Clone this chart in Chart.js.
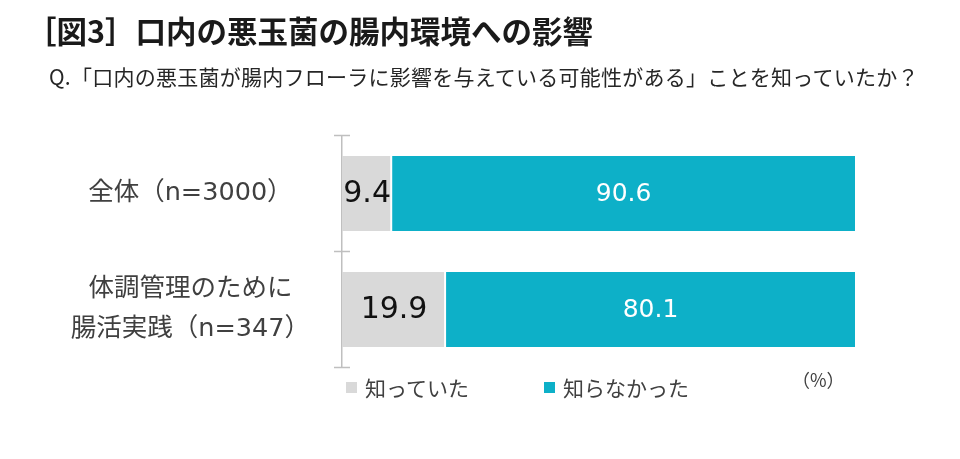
<!DOCTYPE html>
<html lang="ja">
<head>
<meta charset="utf-8">
<script src="https://cdn.jsdelivr.net/npm/chart.js@4.4.1/dist/chart.umd.min.js"></script>
<style>
  html, body { margin: 0; padding: 0; background: #fff; }
  body { width: 960px; height: 459px; position: relative; overflow: hidden;
         font-family: "Noto Sans CJK JP", "Noto Sans", sans-serif; color: #222; }
  #wrap { position: absolute; left: 0; top: 0; width: 960px; height: 459px; }
  .txt { position: absolute; white-space: nowrap; line-height: 1; }
  #title { left: 26px; top: 15px; font-size: 30.5px; font-weight: 700; color: #1a1a1a; }
  #sub { left: 49px; top: 66px; font-size: 21px; color: #262626; letter-spacing: 0.25px; }
  #unit { left: 792px; top: 370px; font-size: 18px; color: #404040; }
  .lg { position: absolute; top: 377px; font-size: 21px; color: #404040; line-height: 1; white-space: nowrap; }
  .lg i { display: inline-block; width: 11px; height: 11px; margin-right: 8px; vertical-align: 3px; }
</style>
</head>
<body>
<div id="wrap"><canvas id="chart" width="960" height="459"></canvas></div>
<div class="txt" id="title">［図3］口内の悪玉菌の腸内環境への影響</div>
<div class="txt" id="sub">Q.「口内の悪玉菌が腸内フローラに影響を与えている可能性がある」ことを知っていたか？</div>
<div class="txt" id="unit">（%）</div>
<div class="lg" style="left:346px"><i style="background:#d9d9d9"></i>知っていた</div>
<div class="lg" style="left:544px"><i style="background:#0db0c8"></i>知らなかった</div>
<script>
// データ
const categories = [["全体（n=3000）"], ["体調管理のために", "腸活実践（n=347）"]];
const seriesNames = ["知っていた", "知らなかった"];
const knew = [9.4, 19.9];
const didNotKnow = [90.6, 80.1];

// 棒の中に数値を描く
const barLabels = {
  id: "barLabels",
  afterDatasetsDraw(chart) {
    const ctx = chart.ctx;
    ctx.save();
    ctx.textAlign = "center";
    ctx.textBaseline = "middle";
    chart.data.datasets.forEach((ds, i) => {
      const meta = chart.getDatasetMeta(i);
      meta.data.forEach((bar, j) => {
        const x = (bar.base + bar.x) / 2;
        if (i === 0) {
          ctx.fillStyle = "#111";
          ctx.font = "30px 'DejaVu Sans', sans-serif";
        } else {
          ctx.fillStyle = "#fff";
          ctx.font = "25px 'DejaVu Sans', sans-serif";
        }
        ctx.fillText(ds.data[j].toFixed(1), x + 1, bar.y + 1);
      });
    });
    ctx.restore();
  }
};

// 軸の目盛り線（左右に少しはみ出す）
const axisTicks = {
  id: "axisTicks",
  afterDraw(chart) {
    const y = chart.scales.y;
    const ctx = chart.ctx;
    const n = chart.data.labels.length;
    ctx.save();
    ctx.strokeStyle = "#bfbfbf";
    ctx.lineWidth = 1.5;
    for (let i = 0; i <= n; i++) {
      const py = y.top + (y.bottom - y.top) * i / n;
      ctx.beginPath();
      ctx.moveTo(y.right - 8, py);
      ctx.lineTo(y.right + 8, py);
      ctx.stroke();
    }
    ctx.restore();
  }
};

new Chart(document.getElementById("chart"), {
  type: "bar",
  data: {
    labels: categories,
    datasets: [
      {
        label: seriesNames[0],
        data: knew,
        backgroundColor: "#d9d9d9",
        borderWidth: 0
      },
      {
        label: seriesNames[1],
        data: didNotKnow,
        backgroundColor: "#0db0c8",
        borderColor: "#ffffff",
        borderWidth: { left: 2, right: 0, top: 0, bottom: 0 },
        borderSkipped: false
      }
    ]
  },
  options: {
    indexAxis: "y",
    responsive: false,
    animation: false,
    layout: { padding: { top: 135.5, bottom: 91.5, right: 105, left: 0 } },
    datasets: { bar: { barPercentage: 1, categoryPercentage: 0.647 } },
    plugins: {
      legend: { display: false },
      tooltip: { enabled: false }
    },
    scales: {
      x: {
        stacked: true,
        min: 0,
        max: 100,
        display: false
      },
      y: {
        stacked: true,
        afterFit(scale) { scale.width = 342; },
        grid: { display: false, drawTicks: false },
        border: { display: true, color: "#bfbfbf", width: 1.5 },
        ticks: {
          padding: 32,
          crossAlign: "center",
          color: "#404040",
          font: { family: "'DejaVu Sans', 'Noto Sans CJK JP', sans-serif", size: 25.5, lineHeight: 1.57 }
        }
      }
    }
  },
  plugins: [barLabels, axisTicks]
});
</script>
</body>
</html>
